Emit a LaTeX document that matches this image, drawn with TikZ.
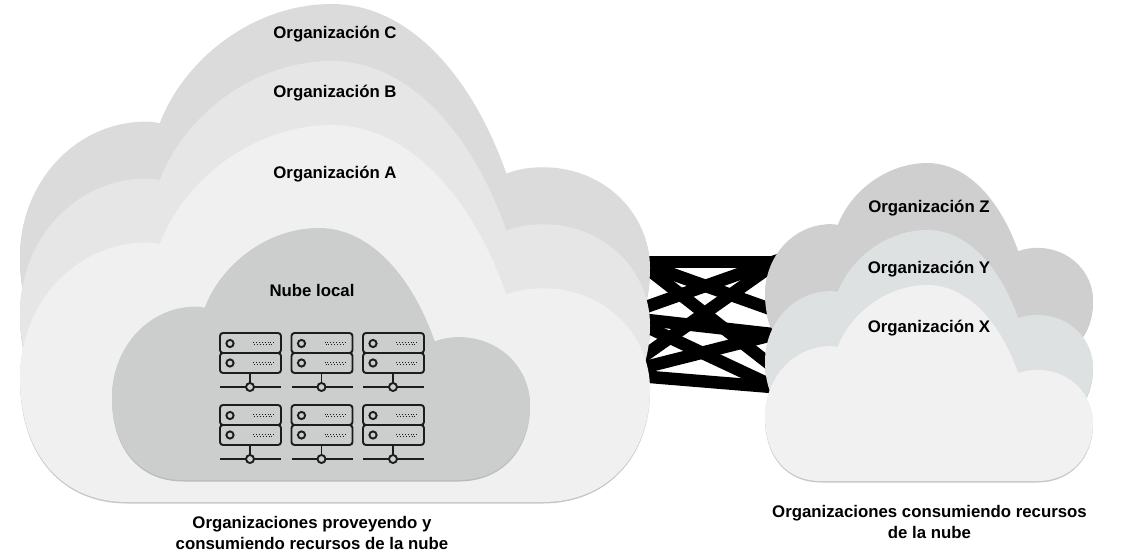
\documentclass[tikz,border=0pt]{standalone}
\usepackage{fontspec}
\setmainfont{Liberation Sans}
\usetikzlibrary{shadows}
\definecolor{cloudC}{HTML}{DBDBDB}
\definecolor{cloudB}{HTML}{E6E6E6}
\definecolor{cloudA}{HTML}{F0F0F0}
\definecolor{cloudL}{HTML}{CCCECD}
\definecolor{cloudZ}{HTML}{CECFCE}
\definecolor{cloudY}{HTML}{DEE1E2}
\definecolor{cloudX}{HTML}{F1F1F1}
\definecolor{iconink}{HTML}{1C1C1C}
\tikzset{
 cloudshade/.style={general shadow={shadow xshift=0pt,shadow yshift=-1.5pt,opacity=.22,fill=black}},
 orglabel/.style={font=\bfseries\fontsize{16.8}{21}\selectfont,align=center,inner sep=0pt},
 band/.style={line width=12.5pt,black},
 iconline/.style={line width=1.9pt,iconink,rounded corners=3pt}
}
% #1 colour, #2 left, #3 top, #4 width, #5 height
\newcommand{\cloudfill}[5]{%
\fill[#1,cloudshade,shift={(#2pt,-#3pt)},x=#4pt,y=-#5pt] (.17,1)
 .. controls (.07,1) and (0,.88) .. (0,.67)
 .. controls (0,.47) and (.09,.312) .. (.20,.312)
 .. controls (.21,.312) and (.215,.314) .. (.222,.316)
 .. controls (.26,.147) and (.37,0) .. (.495,0)
 .. controls (.62,0) and (.72,.2) .. (.772,.45)
 .. controls (.79,.438) and (.81,.433) .. (.83,.433)
 .. controls (.93,.433) and (1,.56) .. (1,.70)
 .. controls (1,.88) and (.93,1) .. (.83,1) -- cycle;}
\begin{document}
\begin{tikzpicture}[x=1pt,y=-1pt]
\useasboundingbox (0,0) rectangle (1121,552);
% connections first, the clouds hide their ends
\begin{scope}
\clip (630,240) rectangle (778,400);
\foreach \N/\A/\B in {1/262/262,2/259/316,3/312.6/256,4/318/336,5/255/380,6/365.7/253,7/370.9/330.5,8/319/394,9/375.3/388.5}
{\coordinate (l\N) at (630,\A);
 \coordinate (r\N) at (790,\B);
 \draw[band] (l\N) -- (r\N);}
\end{scope}
% left group
\cloudfill{cloudC}{20}{4}{630}{377}
\cloudfill{cloudB}{20}{61}{630}{377}
\cloudfill{cloudA}{20}{125}{630}{377}
\cloudfill{cloudL}{112}{228}{418}{252}
% right group
\cloudfill{cloudZ}{765}{163}{328}{196}
\cloudfill{cloudY}{765}{230}{328}{196}
\cloudfill{cloudX}{765}{285}{328}{196}
% servers
\foreach \X in {0,71.5,143}
{\foreach \Y in {0,72}
 {\begin{scope}[shift={(\X,\Y)}]
 \draw[iconline] (220,333) rectangle (281,353);
 \draw[iconline] (220,353) rectangle (281,373);
 \draw[iconline] (230,343.5) circle (3.6);
 \draw[iconline] (230,363) circle (3.6);
 \foreach \R in {343.5,363}
 {\draw[iconink,line width=.9pt,dotted] (253,\R-1) -- (274,\R-1);
  \draw[iconink,line width=.9pt,dotted] (254,\R+1) -- (274,\R+1);}
 \draw[iconline] (250,373) -- (250,383);
 \draw[iconline] (220,387) -- (281,387);
 \draw[iconline,fill=cloudL] (250,387) circle (4);
 \end{scope}}}
% labels
\node[orglabel] (orgC) at (335,34) {Organización C};
\node[orglabel] (orgB) at (335,93) {Organización B};
\node[orglabel] (orgA) at (335,174) {Organización A};
\node[orglabel] (local) at (312,290) {Nube local};
\node[orglabel] (orgZ) at (929,208) {Organización Z};
\node[orglabel] (orgY) at (929,269) {Organización Y};
\node[orglabel] (orgX) at (929,328) {Organización X};
\node[orglabel] (provider) at (312,533) {Organizaciones proveyendo y\\consumiendo recursos de la nube};
\node[orglabel] (consumer) at (929.5,522) {Organizaciones consumiendo recursos\\de la nube};
\end{tikzpicture}
\end{document}
